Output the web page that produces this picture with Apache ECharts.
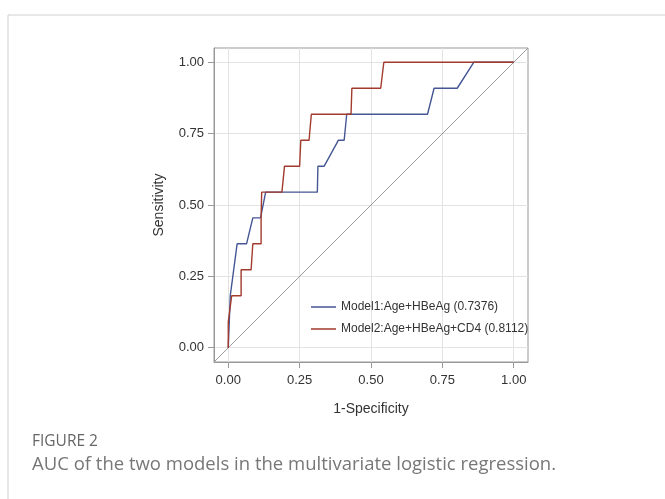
<!DOCTYPE html>
<html>
<head>
<meta charset="utf-8">
<script src="https://cdn.jsdelivr.net/npm/echarts@6/dist/echarts.min.js"></script>
<style>
  html, body { margin: 0; padding: 0; background: #fff; }
  #roc-chart { width: 665px; height: 499px; }
</style>
</head>
<body>
<div id="roc-chart"></div>
<script>
// ROC 曲线数据 [1-Specificity, Sensitivity]
var model1Name = 'Model1:Age+HBeAg (0.7376)'
var model2Name = 'Model2:Age+HBeAg+CD4 (0.8112)'
var model1Fpr = [0, 0.007, 0.031, 0.064, 0.086, 0.113, 0.131, 0.312, 0.314, 0.336, 0.386, 0.406, 0.415, 0.698, 0.721, 0.802, 0.86, 1]
var model1Tpr = [0, 0.182, 0.364, 0.364, 0.455, 0.455, 0.545, 0.545, 0.636, 0.636, 0.727, 0.727, 0.818, 0.818, 0.909, 0.909, 1, 1]
var model2Fpr = [0, 0, 0.005, 0.012, 0.045, 0.045, 0.08, 0.086, 0.115, 0.115, 0.117, 0.188, 0.197, 0.25, 0.254, 0.283, 0.291, 0.43, 0.433, 0.534, 0.545, 1]
var model2Tpr = [0, 0.091, 0.091, 0.182, 0.182, 0.273, 0.273, 0.364, 0.364, 0.455, 0.545, 0.545, 0.636, 0.636, 0.727, 0.727, 0.818, 0.818, 0.909, 0.909, 1, 1]
var refLine = [-0.05, 1.05] // 对角参考线
var tickValues = [0, 0.25, 0.5, 0.75, 1]

function pairs(xs, ys) {
  var arr = []
  for (var i = 0; i < xs.length; i++) arr.push([xs[i], ys[i]])
  return arr
}

var textColor = '#333'
var font = 'Liberation Sans, Arial, sans-serif'

var rocChart = echarts.init(document.getElementById('roc-chart'), null, { renderer: 'canvas' })
var axisCommon = {
  type: 'value',
  min: -0.05,
  max: 1.05,
  nameLocation: 'middle',
  nameTextStyle: { color: textColor, fontSize: 14, fontFamily: font },
  axisLine: { show: true, onZero: false, lineStyle: { color: '#999' } },
  axisTick: { show: true, length: 6, customValues: tickValues, lineStyle: { color: '#999' } },
  axisLabel: {
    color: textColor, fontSize: 13, fontFamily: font, customValues: tickValues, margin: 10,
    formatter: function (v) { return v.toFixed(2) }
  },
  splitLine: { show: true, lineStyle: { color: '#e3e3e3' } }
}

var option = {
  animation: false,
  grid: { left: 214, top: 48, width: 314, height: 314, show: true, borderColor: '#999', borderWidth: 1 },
  xAxis: Object.assign({}, axisCommon, { name: '1-Specificity', nameGap: 40, axisLabel: Object.assign({}, axisCommon.axisLabel, { margin: 12 }) }),
  yAxis: Object.assign({}, axisCommon, { name: 'Sensitivity', nameGap: 48 }),
  legend: {
    data: [model1Name, model2Name],
    orient: 'vertical',
    left: 306,
    top: 296,
    icon: 'rect',
    itemWidth: 25,
    itemHeight: 1.5,
    itemGap: 10,
    textStyle: { color: textColor, fontSize: 12, fontFamily: font }
  },
  graphic: [
    // 外框
    { type: 'polyline', shape: { points: [[8, 499], [8, 15], [665, 15]] }, style: { stroke: '#d0d0d0', lineWidth: 1, fill: null } },
    { type: 'text', left: 32, top: 434, style: { text: 'FIGURE 2', fill: '#666', font: '15.5px "Open Sans", sans-serif' } },
    { type: 'text', left: 32, top: 455, style: { text: 'AUC of the two models in the multivariate logistic regression.', fill: '#777', font: '18.5px "Open Sans", sans-serif' } }
  ],
  series: [
    {
      name: 'ref',
      type: 'line',
      data: pairs(refLine, refLine),
      symbol: 'none',
      silent: true,
      lineStyle: { color: '#9a9a9a', width: 1 }
    },
    {
      name: model1Name,
      type: 'line',
      data: pairs(model1Fpr, model1Tpr),
      symbol: 'none',
      itemStyle: { color: '#445694' },
      lineStyle: { color: '#445694', width: 1.4 }
    },
    {
      name: model2Name,
      type: 'line',
      data: pairs(model2Fpr, model2Tpr),
      symbol: 'none',
      itemStyle: { color: '#A23A2E' },
      lineStyle: { color: '#A23A2E', width: 1.4 }
    }
  ]
}
rocChart.setOption(option)
</script>
</body>
</html>
